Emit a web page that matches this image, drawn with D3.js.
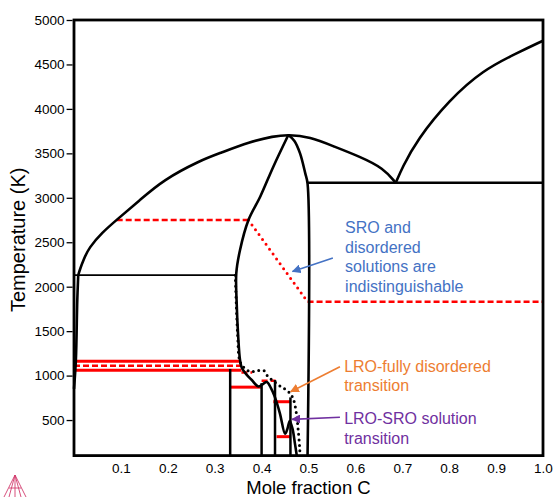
<!DOCTYPE html>
<html>
<head>
<meta charset="utf-8">
<script src="https://d3js.org/d3.v7.min.js"></script>
<style>
  body { margin: 0; background: #fff; }
  svg { font-family: "Liberation Sans", Arial, Helvetica, sans-serif; }
</style>
</head>
<body>
<div id="chart"></div>
<script>
// phase boundaries, [mole fraction C, temperature K]
const liquidus = [[0.009, 2130], [0.013, 2200], [0.02, 2300], [0.032, 2440], [0.06, 2610], [0.091, 2752],
    [0.141, 2977], [0.19, 3200], [0.269, 3420], [0.311, 3502], [0.375, 3630], [0.425, 3692], [0.457, 3712],
    [0.503, 3684], [0.553, 3580], [0.61, 3462], [0.66, 3333], [0.686, 3168]];
const graphiteLiquidus = [[0.686, 3168], [0.70, 3340], [0.731, 3650], [0.80, 4100], [0.872, 4436], [0.944, 4627], [1.0, 4767]];
const bccSolvus = [[0.009, 2130], [0.007, 1850], [0.004, 1175], [0.0, 850]];
const carbideLeft = [[0.457, 3706], [0.425, 3350], [0.397, 3012], [0.372, 2750], [0.354, 2413], [0.346, 2150],
    [0.347, 1800], [0.35, 1450], [0.354, 1175], [0.358, 1085], [0.368, 1010], [0.379, 950], [0.393, 878],
    [0.403, 905], [0.411, 928], [0.42, 860], [0.428, 763], [0.439, 576], [0.45, 345], [0.455, 400],
    [0.46, 490], [0.466, 400], [0.471, 238], [0.475, 100]];
const carbideRight = [[0.457, 3706], [0.47, 3640], [0.482, 3500], [0.493, 3277], [0.498, 3160], [0.498, 100]];
const orderDisorder = [[0.344, 2130], [0.346, 1800], [0.349, 1450], [0.353, 1175], [0.36, 1105], [0.375, 1045],
    [0.39, 1055], [0.405, 1055], [0.412, 1000], [0.425, 940], [0.44, 880], [0.457, 820], [0.467, 745],
    [0.474, 580], [0.478, 390], [0.481, 200], [0.482, 100]];

// ordered compounds: [x, top temperature]
const compounds = [[0.333, 1075], [0.40, 915], [0.4286, 950], [0.4615, 755]];

// horizontal segments: [x start, x end, temperature]
const blackLevels = [[0, 0.345, 2130], [0.498, 1, 3168]];
const redSolidLevels = [[0, 0.355, 1160], [0, 0.357, 1060], [0.333, 0.40, 870], [0.425, 0.462, 706], [0.432, 0.462, 313]];
const redDashLevels = [[0.091, 0.372, 2750], [0.498, 1, 1830], [0, 0.355, 1110], [0.357, 0.38, 1035], [0.40, 0.43, 943]];
const redDotted = [[0.372, 2750], [0.498, 1830]];

const yTicks = [500, 1000, 1500, 2000, 2500, 3000, 3500, 4000, 4500, 5000];
const xTicks = [0.1, 0.2, 0.3, 0.4, 0.5, 0.6, 0.7, 0.8, 0.9, 1.0];

// annotations: text lines at [x, T], arrow from -> to
const notes = [
    { color: "#4472c4", lines: ["SRO and", "disordered", "solutions are", "indistinguishable"], at: [0.578, 2600], from: [0.552, 2324], to: [0.466, 2171] },
    { color: "#ed7d31", lines: ["LRO-fully disordered", "transition"], at: [0.576, 1041], from: [0.567, 1100], to: [0.462, 819] },
    { color: "#7030a0", lines: ["LRO-SRO solution", "transition"], at: [0.576, 450], from: [0.567, 531], to: [0.465, 508] }
];

const W = 554, H = 497;
const svg = d3.select("#chart").append("svg").attr("width", W).attr("height", H);

const x = d3.scaleLinear().domain([0, 1]).range([74, 543]);
const y = d3.scaleLinear().domain([100, 5000]).range([455.6, 20]);

const line = d3.line().x(d => x(d[0])).y(d => y(d[1])).curve(d3.curveCatmullRom.alpha(0.5));
const smooth = d3.line().x(d => x(d[0])).y(d => y(d[1])).curve(d3.curveBasis);
const straight = d3.line().x(d => x(d[0])).y(d => y(d[1]));

const plot = svg.append("g");

// red horizontal levels
plot.selectAll(".rs").data(redSolidLevels).enter().append("line")
    .attr("x1", d => x(d[0])).attr("x2", d => x(d[1]))
    .attr("y1", d => y(d[2])).attr("y2", d => y(d[2]))
    .attr("stroke", "#ff0000").attr("stroke-width", 3);

plot.selectAll(".rd").data(redDashLevels).enter().append("line")
    .attr("x1", d => x(d[0])).attr("x2", d => x(d[1]))
    .attr("y1", d => y(d[2])).attr("y2", d => y(d[2]))
    .attr("stroke", "#ff0000").attr("stroke-width", 2.5).attr("stroke-dasharray", "6,3");

plot.append("path").attr("d", straight(redDotted))
    .attr("fill", "none").attr("stroke", "#ff0000").attr("stroke-width", 3)
    .attr("stroke-linecap", "round").attr("stroke-dasharray", "0,6");

// black horizontal levels
plot.selectAll(".bl").data(blackLevels).enter().append("line")
    .attr("x1", d => x(d[0])).attr("x2", d => x(d[1]))
    .attr("y1", d => y(d[2])).attr("y2", d => y(d[2]))
    .attr("stroke", "#000").attr("stroke-width", (d, i) => i === 0 ? 1.8 : 2.5);

// compound lines
plot.selectAll(".cp").data(compounds).enter().append("line")
    .attr("x1", d => x(d[0])).attr("x2", d => x(d[0]))
    .attr("y1", y(100)).attr("y2", d => y(d[1]))
    .attr("stroke", "#000").attr("stroke-width", 2.5);

// curves
[liquidus, graphiteLiquidus].forEach(c => {
    plot.append("path").attr("d", smooth(c))
        .attr("fill", "none").attr("stroke", "#000").attr("stroke-width", 2.6);
});
[carbideLeft, carbideRight, bccSolvus].forEach(c => {
    plot.append("path").attr("d", line(c))
        .attr("fill", "none").attr("stroke", "#000").attr("stroke-width", 2.6);
});

plot.append("path").attr("d", line(orderDisorder))
    .attr("fill", "none").attr("stroke", "#000").attr("stroke-width", 3)
    .attr("stroke-linecap", "round").attr("stroke-dasharray", "0,5.5");

// frame
svg.append("rect")
    .attr("x", x(0)).attr("y", y(5000))
    .attr("width", x(1) - x(0)).attr("height", y(100) - y(5000))
    .attr("fill", "none").attr("stroke", "#000").attr("stroke-width", 2.8);

// axes
const yAxis = svg.append("g").attr("transform", `translate(${x(0) - 1.4},0)`)
    .call(d3.axisLeft(y).tickValues(yTicks).tickSize(6).tickPadding(2).tickFormat(d3.format("d")));
yAxis.select(".domain").remove();
yAxis.selectAll("line").attr("stroke-width", 1.3);
yAxis.selectAll("text").attr("font-size", 13.5).attr("fill", "#000");

const xAxis = svg.append("g").attr("transform", `translate(0,${y(100)})`)
    .call(d3.axisBottom(x).tickValues(xTicks).tickSize(0).tickPadding(7.5).tickFormat(d3.format(".1f")));
xAxis.select(".domain").remove();
xAxis.selectAll("text").attr("font-size", 13.5).attr("fill", "#000");

svg.append("text")
    .attr("transform", `translate(25,${(y(100) + y(5000)) / 2 + 2}) rotate(-90)`)
    .attr("text-anchor", "middle").attr("font-size", 20)
    .text("Temperature (K)");

svg.append("text")
    .attr("x", (x(0) + x(1)) / 2).attr("y", 493.5)
    .attr("text-anchor", "middle").attr("font-size", 18.5)
    .text("Mole fraction C");

// annotations
const defs = svg.append("defs");
notes.forEach((n, i) => {
    defs.append("marker")
        .attr("id", "arrow" + i)
        .attr("viewBox", "0 0 10 10").attr("refX", 9).attr("refY", 5)
        .attr("markerWidth", 9).attr("markerHeight", 9)
        .attr("markerUnits", "userSpaceOnUse").attr("orient", "auto")
        .append("path").attr("d", "M0,0 L10,5 L0,10 z").attr("fill", n.color);

    svg.append("line")
        .attr("x1", x(n.from[0])).attr("y1", y(n.from[1]))
        .attr("x2", x(n.to[0])).attr("y2", y(n.to[1]))
        .attr("stroke", n.color).attr("stroke-width", 1.6)
        .attr("marker-end", `url(#arrow${i})`);

    const t = svg.append("text")
        .attr("x", x(n.at[0])).attr("y", y(n.at[1]))
        .attr("font-size", 16).attr("fill", n.color);
    n.lines.forEach((s, j) => {
        t.append("tspan").attr("x", x(n.at[0])).attr("dy", j === 0 ? 0 : 19.5).text(s);
    });
});

// small logo in the corner
const logo = svg.append("g").attr("fill", "none").attr("stroke", "#d23c6e").attr("stroke-width", 0.9);
[[4, 497], [9, 497], [21, 497], [26, 497]].forEach(p => {
    logo.append("line").attr("x1", 15).attr("y1", 475).attr("x2", p[0]).attr("y2", p[1]);
});
logo.append("line").attr("x1", 15).attr("y1", 475).attr("x2", 15).attr("y2", 497);
logo.append("line").attr("x1", 9).attr("y1", 488).attr("x2", 21).attr("y2", 488);
</script>
</body>
</html>
